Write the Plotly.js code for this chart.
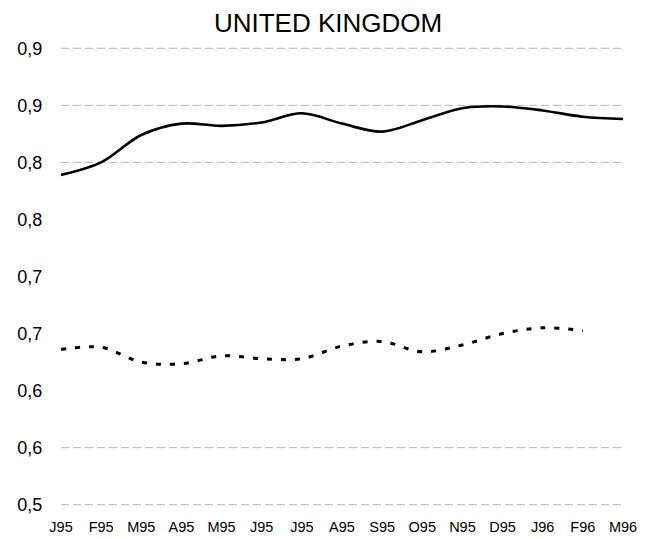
<!DOCTYPE html>
<html>
<head>
<meta charset="utf-8">
<script src="https://cdn.plot.ly/plotly-3.0.1.min.js"></script>
<style>html,body{margin:0;padding:0;background:#fff;}#chart{width:656px;height:539px;}</style>
</head>
<body>
<div id="chart"></div>
<script>
const months = ["J95","F95","M95","A95","M95","J95","J95","A95","S95","O95","N95","D95","J96","F96","M96"];
const solidSeries = [0.789,0.800,0.824,0.834,0.832,0.835,0.843,0.834,0.827,0.837,0.8475,0.849,0.8455,0.840,0.838];
const dashedSeries = [0.636,0.638,0.625,0.6235,0.6305,0.628,0.628,0.639,0.643,0.634,0.640,0.650,0.655,0.6525];
const yTickVals = [0.5,0.55,0.6,0.65,0.7,0.75,0.8,0.85,0.9];
const yTickText = ["0,5","0,6","0,6","0,7","0,7","0,8","0,8","0,9","0,9"];
const gridVals = [0.5,0.55,0.8,0.85,0.9];

const xIdx = months.map((m,i)=>i);
const font = "Arial, 'Liberation Sans', Helvetica, sans-serif";

const traces = [
  {x: xIdx, y: solidSeries, mode:"lines", line:{color:"#000", width:2.6, shape:"spline", smoothing:1}, hoverinfo:"skip"},
  {x: xIdx.slice(0, dashedSeries.length), y: dashedSeries, mode:"lines", line:{color:"#000", width:3, shape:"spline", smoothing:1, dash:"5px,9px"}, hoverinfo:"skip"}
];

const shapes = gridVals.map(v => ({
  type:"line", xref:"x", yref:"y", x0:0, x1:14.05, y0:v, y1:v,
  line:{color:"#b4b4b4", width:1, dash:"8px,4px"}, layer:"below"
}));

const layout = {
  width:656, height:539,
  margin:{l:61, r:33, t:46, b:32},
  paper_bgcolor:"#fff", plot_bgcolor:"#fff",
  showlegend:false,
  title:{text:"UNITED KINGDOM", font:{family:font, size:26, color:"#000"}, x:0.5, xanchor:"center", xref:"container", y:1-23/539, yanchor:"middle", yref:"container"},
  xaxis:{range:[0,14], tickvals:xIdx, ticktext:months, showgrid:false, zeroline:false, showline:false,
         ticks:"outside", ticklen:7, tickcolor:"rgba(0,0,0,0)", tickfont:{family:font, size:14.5, color:"#000"}},
  yaxis:{range:[0.498,0.902], tickvals:yTickVals, ticktext:yTickText, showgrid:false, zeroline:false, showline:false,
         ticks:"outside", ticklen:14, tickcolor:"rgba(0,0,0,0)", tickfont:{family:font, size:18, color:"#000"}},
  shapes: shapes
};

Plotly.newPlot("chart", traces, layout, {staticPlot:true, displayModeBar:false});
</script>
</body>
</html>
